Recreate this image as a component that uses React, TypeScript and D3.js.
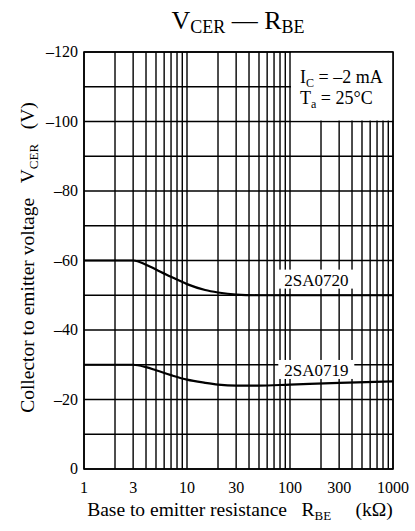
import { useRef, useEffect } from "react";
import * as d3 from "d3";

// R_BE (kΩ) sample points for both curves
const rbe = [1, 2, 3, 4, 5, 7, 10, 15, 20, 30, 50, 100, 300, 1000];
const vcer0720 = [-60, -60, -60, -58.8, -57.4, -55.3, -53.2, -51.5, -50.8, -50.2, -50, -50, -50, -50];
const vcer0719 = [-30, -30, -30, -29.3, -28.4, -27, -25.7, -24.8, -24.3, -24, -24, -24.3, -24.8, -25.2];

const xGrid = [1, 2, 3, 4, 5, 6, 7, 8, 9, 10, 20, 30, 40, 50, 60, 70, 80, 90, 100, 200, 300, 400, 500, 600, 700, 800, 900, 1000];
const xTickLabels = [1, 3, 10, 30, 100, 300, 1000];
const yGrid = [0, -10, -20, -30, -40, -50, -60, -70, -80, -90, -100, -110, -120];
const yTickLabels = [0, -20, -40, -60, -80, -100, -120];

const FONT = "'Liberation Serif', 'Times New Roman', serif";
const SP = "\u00a0";

export default function App() {
  const svgRef = useRef<SVGSVGElement>(null);

  useEffect(() => {
    if (!svgRef.current) return;
    const svg = d3.select(svgRef.current);
    svg.selectAll("*").remove();

    const left = 84, right = 393, top = 52, bottom = 469;
    const x = d3.scaleLog().domain([1, 1000]).range([left, right]);
    const y = d3.scaleLinear().domain([0, -120]).range([bottom, top]);

    svg.append("rect").attr("width", 415).attr("height", 531).attr("fill", "#fff");

    // Grid
    svg
      .append("g")
      .selectAll("line")
      .data(xGrid)
      .join("line")
      .attr("x1", (d) => x(d))
      .attr("x2", (d) => x(d))
      .attr("y1", top)
      .attr("y2", bottom)
      .attr("stroke", "#000")
      .attr("stroke-width", 1.4);

    svg
      .append("g")
      .selectAll("line")
      .data(yGrid)
      .join("line")
      .attr("x1", left)
      .attr("x2", right)
      .attr("y1", (d) => y(d))
      .attr("y2", (d) => y(d))
      .attr("stroke", "#000")
      .attr("stroke-width", 1.4);

    // Condition box blanks the grid (upper right)
    svg
      .append("rect")
      .attr("x", x(100) + 1)
      .attr("y", top)
      .attr("width", right - x(100) - 1)
      .attr("height", y(-100) - top - 1)
      .attr("fill", "#fff");

    // Curves
    const line = d3
      .line<number>()
      .x((_, i) => x(rbe[i]))
      .y((d) => y(d))
      .curve(d3.curveMonotoneX);

    [vcer0720, vcer0719].forEach((s) => {
      svg
        .append("path")
        .datum(s)
        .attr("d", line)
        .attr("fill", "none")
        .attr("stroke", "#000")
        .attr("stroke-width", 2.2);
    });

    // Curve labels with white backing
    const labels = [
      { text: "2SA0720", r: 180, v: -54.5 },
      { text: "2SA0719", r: 180, v: -28.5 },
    ];
    labels.forEach((l) => {
      const cx = x(l.r);
      const cy = y(l.v);
      svg
        .append("rect")
        .attr("x", cx - 38)
        .attr("y", cy - 10)
        .attr("width", 76)
        .attr("height", 19)
        .attr("fill", "#fff");
      svg
        .append("text")
        .attr("x", cx)
        .attr("y", cy + 6)
        .attr("text-anchor", "middle")
        .attr("font-family", FONT)
        .attr("font-size", 17)
        .text(l.text);
    });

    // Border
    svg
      .append("rect")
      .attr("x", left)
      .attr("y", top)
      .attr("width", right - left)
      .attr("height", bottom - top)
      .attr("fill", "none")
      .attr("stroke", "#000")
      .attr("stroke-width", 1.6);

    // Tick labels
    svg
      .append("g")
      .selectAll("text")
      .data(yTickLabels)
      .join("text")
      .attr("x", left - 6)
      .attr("y", (d) => y(d) + 5)
      .attr("text-anchor", "end")
      .attr("font-family", FONT)
      .attr("font-size", 16)
      .text((d) => (d === 0 ? "0" : `\u2013${-d}`));

    svg
      .append("g")
      .selectAll("text")
      .data(xTickLabels)
      .join("text")
      .attr("x", (d) => x(d))
      .attr("y", bottom + 24)
      .attr("text-anchor", "middle")
      .attr("font-family", FONT)
      .attr("font-size", 16)
      .text((d) => String(d));

    // Conditions
    const cond = svg.append("text").attr("x", 300).attr("y", 83).attr("font-family", FONT).attr("font-size", 18);
    cond.append("tspan").text("I");
    cond.append("tspan").attr("dy", 4).attr("font-size", 12).text("C");
    cond.append("tspan").attr("dy", -4).text(" = \u20132 mA");
    const ta = svg.append("text").attr("x", 300).attr("y", 104).attr("font-family", FONT).attr("font-size", 18);
    ta.append("tspan").text("T");
    ta.append("tspan").attr("dy", 4).attr("font-size", 12).text("a");
    ta.append("tspan").attr("dy", -4).text(" = 25\u00b0C");

    // Title
    const title = svg
      .append("text")
      .attr("x", 238)
      .attr("y", 29)
      .attr("text-anchor", "middle")
      .attr("font-family", FONT)
      .attr("font-size", 26);
    title.append("tspan").text("V");
    title.append("tspan").attr("dy", 4).attr("font-size", 18).text("CER");
    title.append("tspan").attr("dy", -4).text(" \u2014 R");
    title.append("tspan").attr("dy", 4).attr("font-size", 18).text("BE");

    // X axis label
    const xl = svg
      .append("text")
      .attr("x", 240)
      .attr("y", 516)
      .attr("text-anchor", "middle")
      .attr("font-family", FONT)
      .attr("font-size", 19.5);
    xl.append("tspan").text(`Base to emitter resistance${SP}${SP}${SP}R`);
    xl.append("tspan").attr("dy", 4).attr("font-size", 13).text("BE");
    xl.append("tspan").attr("dy", -4).text(`${SP}${SP}${SP}${SP}${SP}(k\u03a9)`);

    // Y axis label
    const yl = svg
      .append("text")
      .attr("transform", `translate(34,${(top + bottom) / 2 - 3}) rotate(-90)`)
      .attr("text-anchor", "middle")
      .attr("font-family", FONT)
      .attr("font-size", 19.5);
    yl.append("tspan").text(`Collector to emitter voltage${SP}${SP}${SP}V`);
    yl.append("tspan").attr("dy", 4).attr("font-size", 13).text("CER");
    yl.append("tspan").attr("dy", -4).text(`${SP}${SP}${SP}(V)`);
  }, []);

  return (
    <svg
      ref={svgRef}
      width={415}
      height={531}
      style={{ position: "absolute", left: 0, top: 0, display: "block" }}
    />
  );
}
